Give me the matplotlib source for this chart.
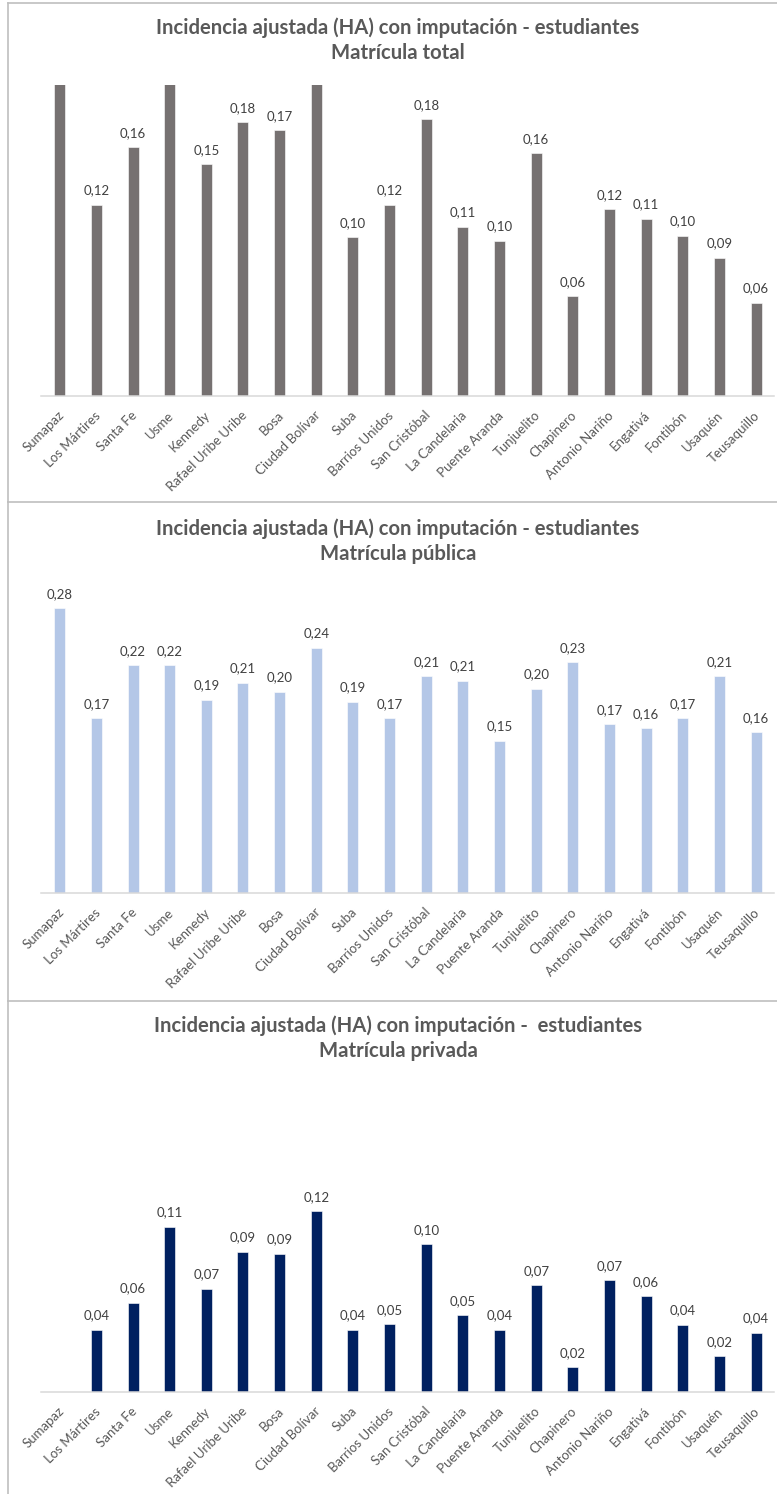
import numpy as np
import matplotlib
matplotlib.use("Agg")
import matplotlib.pyplot as plt
from matplotlib.lines import Line2D
from matplotlib.transforms import ScaledTranslation

plt.rcParams['font.family'] = ['Lato', 'DejaVu Sans']

districts = ['Sumapaz', 'Los Mártires', 'Santa Fe', 'Usme', 'Kennedy',
             'Rafael Uribe Uribe', 'Bosa', 'Ciudad Bolívar', 'Suba',
             'Barrios Unidos', 'San Cristóbal', 'La Candelaria', 'Puente Aranda',
             'Tunjuelito', 'Chapinero', 'Antonio Nariño', 'Engativá', 'Fontibón',
             'Usaquén', 'Teusaquillo']

# incidencia ajustada por localidad
total = [0.27, 0.123, 0.160, 0.22, 0.149, 0.176, 0.171, 0.23, 0.102, 0.123,
         0.178, 0.109, 0.100, 0.156, 0.064, 0.120, 0.114, 0.103, 0.089, 0.060]
publica = [0.280, 0.172, 0.224, 0.224, 0.190, 0.207, 0.198, 0.241, 0.188, 0.172,
           0.213, 0.209, 0.150, 0.201, 0.227, 0.166, 0.162, 0.172, 0.213, 0.158]
privada = [np.nan, 0.0415, 0.0595, 0.110, 0.0689, 0.0933, 0.0922, 0.1205, 0.0415, 0.0452,
           0.0985, 0.0511, 0.0415, 0.0711, 0.0165, 0.0745, 0.0638, 0.0448, 0.0238, 0.0395]

titles = ['Incidencia ajustada (HA) con imputación - estudiantes\nMatrícula total',
          'Incidencia ajustada (HA) con imputación - estudiantes\nMatrícula pública',
          'Incidencia ajustada (HA) con imputación -  estudiantes\nMatrícula privada']

W, H = 777, 1494
fig = plt.figure(figsize=(W / 100, H / 100), dpi=100)

GREY_TXT = '#595959'
BORDER = '#BFBFBF'


def draw_panel(vals, color, title, top, base, ymax, title_y, box_top, box_bot):
    # plot area in pixels -> figure fraction
    x0, x1 = 41.4, 774.4
    ax = fig.add_axes([x0 / W, 1 - base / H, (x1 - x0) / W, (base - top) / H])
    x = np.arange(len(districts))
    v = np.array(vals, dtype=float)
    ax.bar(x, np.nan_to_num(v), width=0.3, color=color, edgecolor='white', linewidth=0.4)
    ax.set_xlim(-0.5, len(districts) - 0.5)
    ax.set_ylim(0, ymax)

    for xi, vi in zip(x, v):
        if np.isnan(vi) or vi > ymax:
            continue
        ax.annotate(f"{vi:.2f}".replace('.', ','), (xi, vi), xytext=(0, 7.5),
                    textcoords='offset points', ha='center', va='baseline',
                    fontsize=9.5, color='#404040')

    ax.set_xticks(x)
    ax.set_xticklabels(districts, rotation=45, ha='right', va='center',
                       rotation_mode='anchor', fontsize=9.5, color=GREY_TXT)
    ax.tick_params(axis='x', length=0, pad=12.5)
    for lab in ax.get_xticklabels():
        lab.set_transform(lab.get_transform() + ScaledTranslation(0.02, 0, fig.dpi_scale_trans))
    ax.set_yticks([])
    for side in ['left', 'right', 'top']:
        ax.spines[side].set_visible(False)
    ax.spines['bottom'].set_color('#D9D9D9')
    ax.spines['bottom'].set_linewidth(1.1)

    fig.text(398 / W, 1 - title_y / H, title, ha='center', va='center',
             fontsize=14.6, fontweight='bold', color=GREY_TXT, linespacing=1.3)

    # chart frame
    fig.add_artist(Line2D([7.5 / W, 7.5 / W], [1 - box_top / H, 1 - box_bot / H],
                          color=BORDER, lw=1.2, transform=fig.transFigure))
    fig.add_artist(Line2D([7.5 / W, 1], [1 - box_top / H, 1 - box_top / H],
                          color=BORDER, lw=1.2, transform=fig.transFigure))


draw_panel(total, '#767171', titles[0], 85, 396, 0.20, 40.5, 3, 502)
draw_panel(publica, '#B4C7E7', titles[1], 588, 893, 0.30, 541.5, 502, 1001)
draw_panel(privada, '#002060', titles[2], 1092, 1392, 0.20, 1038.5, 1001, H + 5)

fig.savefig('out.png', dpi=100)
